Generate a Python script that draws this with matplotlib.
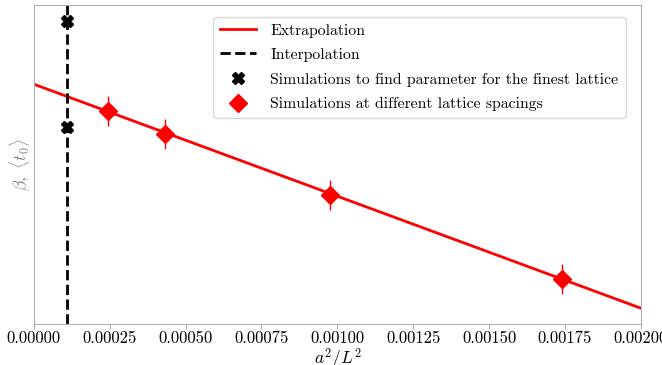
import numpy as np
import matplotlib
matplotlib.use("Agg")
import matplotlib.pyplot as plt

plt.rcParams['font.family'] = ['cmr10', 'DejaVu Serif']
plt.rcParams['mathtext.fontset'] = 'cm'
plt.rcParams['axes.unicode_minus'] = False
plt.rcParams['axes.formatter.use_mathtext'] = True

# Data (arbitrary y units)
fit_intercept = 0.753
fit_slope = -351.5
fit_x = [0.0, 0.002]

interp_x = 0.00011
finest_x = [0.00011, 0.00011]
finest_y = [0.95, 0.619]

sim_x = [0.000243, 0.000433, 0.000975, 0.00174]
sim_y = [0.669, 0.597, 0.406, 0.141]
sim_err = [0.047, 0.047, 0.047, 0.047]

xticks = [0.0, 0.00025, 0.0005, 0.00075, 0.001, 0.00125, 0.0015, 0.00175, 0.002]
xticklabels = ["0.00000", "0.00025", "0.00050", "0.00075", "0.00100",
               "0.00125", "0.00150", "0.00175", "0.00200"]

fig = plt.figure(figsize=(6.62, 3.65), dpi=100)
ax = fig.add_axes([0.051, 0.112, 0.917, 0.873])

fx = np.array(fit_x)
ax.plot(fx, fit_intercept + fit_slope * fx, color='red', lw=2, label='Extrapolation', zorder=2)
ax.axvline(interp_x, color='black', ls='--', lw=2, label='Interpolation', zorder=2)
ax.plot(finest_x, finest_y, ls='none', marker='X', color='black', ms=9,
        label='Simulations to find parameter for the finest lattice', zorder=3)
ax.errorbar(sim_x, sim_y, yerr=sim_err, fmt='D', color='red', ms=9, elinewidth=1,
            capsize=0, label='Simulations at different lattice spacings', zorder=3)

ax.set_xlim(0, 0.002)
ax.set_ylim(0, 1)
ax.set_xticks(xticks)
ax.set_xticklabels(xticklabels, fontsize=12)
ax.set_yticks([])
ax.set_xlabel(r'$a^2/L^2$', fontsize=12.5, labelpad=0)
ax.set_ylabel(r'$\beta,\ \langle t_0\rangle$', fontsize=12.5, color='grey', labelpad=1)
for s in ax.spines.values():
    s.set_color('#b0b0b0')
ax.tick_params(axis='x', color='#b0b0b0', length=3.5, pad=1.5)

ax.legend(loc='upper right', fontsize=11.3, framealpha=0.8, borderpad=0.45,
          handlelength=2.3, handletextpad=0.9, labelspacing=0.66,
          bbox_to_anchor=(0.988, 0.99))

fig.savefig('out.png', dpi=100)
